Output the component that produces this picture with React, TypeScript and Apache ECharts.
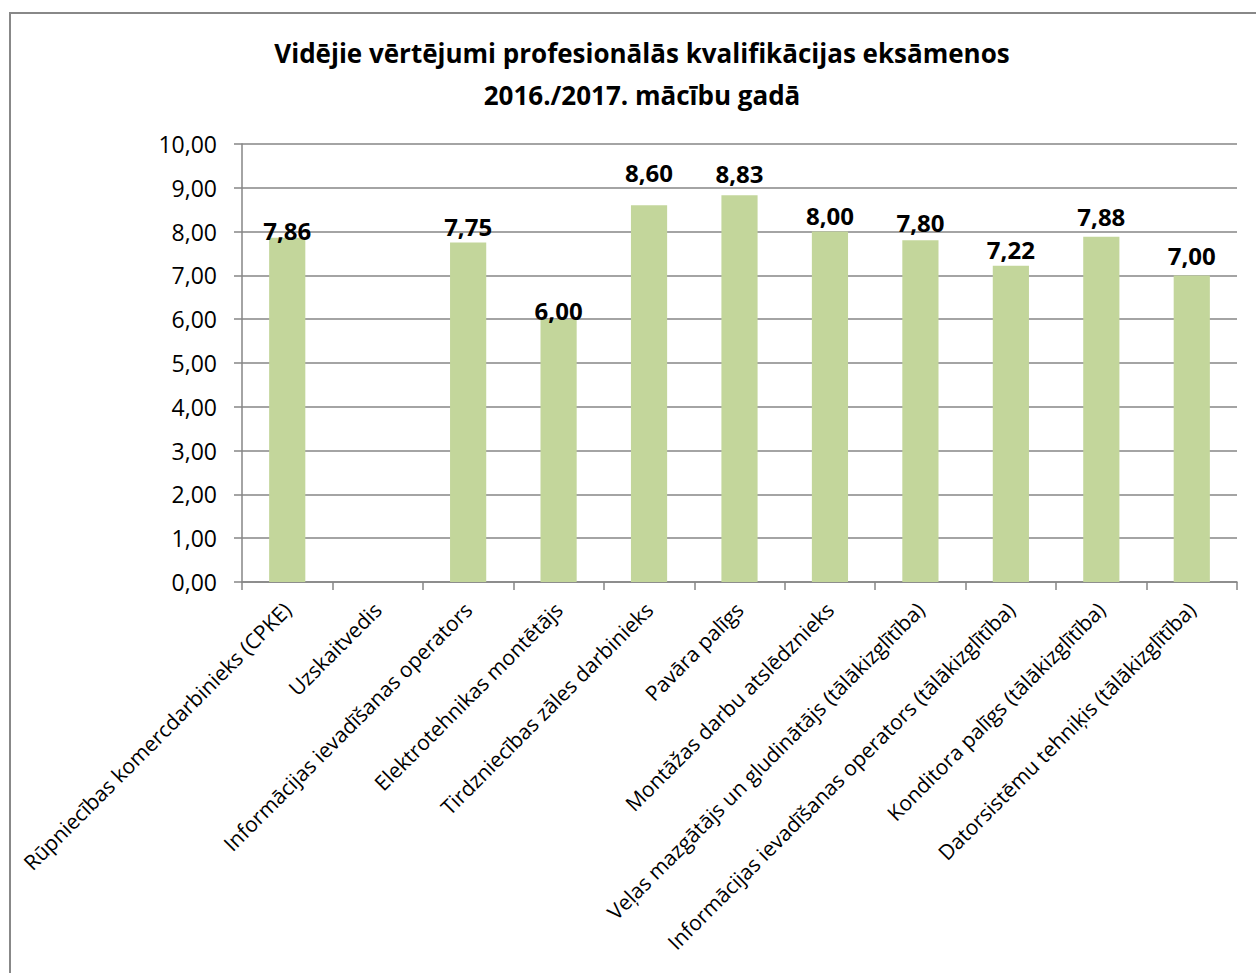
import React, { useEffect, useRef } from "react";
import * as echarts from "echarts";

const titleLines = [
  "Vidējie vērtējumi profesionālās kvalifikācijas eksāmenos",
  "2016./2017. mācību gadā",
];

const categories = [
  "Rūpniecības komercdarbinieks (CPKE)",
  "Uzskaitvedis",
  "Informācijas ievadīšanas operators",
  "Elektrotehnikas montētājs",
  "Tirdzniecības zāles darbinieks",
  "Pavāra palīgs",
  "Montāžas darbu atslēdznieks",
  "Veļas mazgātājs un gludinātājs (tālākizglītība)",
  "Informācijas ievadīšanas operators (tālākizglītība)",
  "Konditora palīgs (tālākizglītība)",
  "Datorsistēmu tehniķis (tālākizglītība)",
];

const values: (number | null)[] = [7.86, null, 7.75, 6.0, 8.6, 8.83, 8.0, 7.8, 7.22, 7.88, 7.0];

// vertical nudges of the value labels (the original labels were placed by hand)
const labelNudges = [6.5, 0, -2.5, 5.5, -18.5, -7.5, -2.5, -3.5, -2.5, -6.5, -5.5];

const yMin = 0;
const yMax = 10;
const yStep = 1;

const fmt = (v: number) => v.toFixed(2).replace(".", ",");

const FONT = "'Open Sans', 'Noto Sans', sans-serif";

export default function App() {
  const ref = useRef<HTMLDivElement>(null);
  useEffect(() => {
    if (!ref.current) return;
    const chart = echarts.init(ref.current, undefined, { renderer: "svg" });
    chart.setOption({
      animation: false,
      backgroundColor: "#ffffff",
      title: {
        text: titleLines.join("\n"),
        left: 637,
        textAlign: "center",
        top: 27,
        textStyle: {
          fontFamily: FONT,
          fontSize: 26,
          fontWeight: "bold",
          color: "#000000",
          lineHeight: 42,
        },
      },
      grid: { left: 242, top: 144, right: 19, bottom: 391, containLabel: false },
      xAxis: {
        type: "category",
        data: categories,
        axisLine: { show: true, lineStyle: { color: "#868686", width: 1.5 } },
        axisTick: { show: true, length: 8, lineStyle: { color: "#868686", width: 1.5 } },
        axisLabel: {
          interval: 0,
          rotate: 45,
          margin: 24,
          fontFamily: FONT,
          fontSize: 21,
          color: "#000000",
        },
      },
      yAxis: {
        type: "value",
        min: yMin,
        max: yMax,
        interval: yStep,
        axisLine: { show: true, lineStyle: { color: "#868686", width: 1.5 } },
        axisTick: { show: true, inside: false, length: 8, lineStyle: { color: "#868686", width: 1.5 } },
        splitLine: { show: true, lineStyle: { color: "#868686", width: 1.5 } },
        axisLabel: {
          margin: 25,
          fontFamily: FONT,
          fontSize: 23,
          color: "#000000",
          formatter: (v: number) => fmt(v),
        },
      },
      series: [
        {
          type: "bar",
          data: values.map((v, i) => ({
            value: v,
            label: { offset: [0, labelNudges[i]] },
          })),
          barCategoryGap: "60%",
          itemStyle: { color: "#C3D69B" },
          label: {
            show: true,
            position: "top",
            distance: 2,
            fontFamily: FONT,
            fontSize: 24,
            fontWeight: "bold",
            color: "#000000",
            formatter: (p: any) => (p.value == null ? "" : fmt(p.value)),
          },
        },
      ],
    });
    return () => chart.dispose();
  }, []);

  return (
    <div style={{ position: "fixed", left: 0, top: 0, width: 1256, height: 973, overflow: "hidden", background: "#fff" }}>
      <div ref={ref} style={{ position: "absolute", left: 0, top: 0, width: 1256, height: 973 }} />
      <div
        style={{
          position: "absolute",
          left: 9,
          top: 12,
          width: 1400,
          height: 1100,
          border: "2px solid #888888",
          pointerEvents: "none",
        }}
      />
    </div>
  );
}
